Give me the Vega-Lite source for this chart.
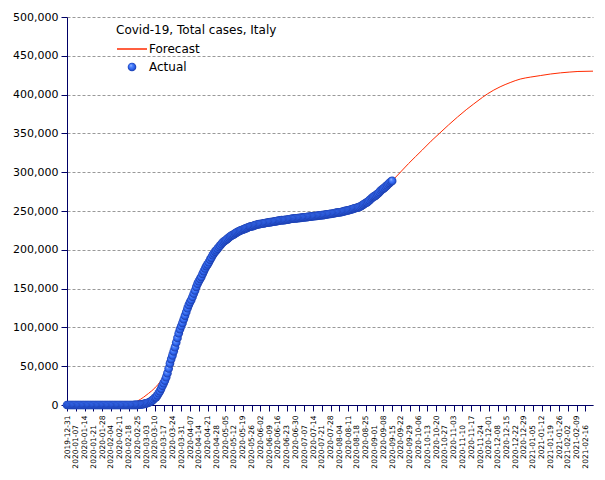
{
  "$schema": "https://vega.github.io/schema/vega-lite/v6.json",
  "width": 526,
  "height": 388,
  "autosize": {"type": "none"},
  "padding": {"left": 67, "top": 17, "right": 12, "bottom": 75},
  "background": "white",
  "config": {"view": {"stroke": null}, "font": "DejaVu Sans"},
  "resolve": {"axis": {"x": "independent", "y": "independent"}},
  "datasets": {
    "forecast": [
      {"date": "2019-12-31", "cases": 0},
      {"date": "2020-01-15", "cases": 0},
      {"date": "2020-02-01", "cases": 0},
      {"date": "2020-02-15", "cases": 200},
      {"date": "2020-02-20", "cases": 1500},
      {"date": "2020-02-25", "cases": 5000},
      {"date": "2020-03-01", "cases": 10000},
      {"date": "2020-03-05", "cases": 15000},
      {"date": "2020-03-10", "cases": 22000},
      {"date": "2020-03-15", "cases": 32000},
      {"date": "2020-03-20", "cases": 48000},
      {"date": "2020-03-25", "cases": 70000},
      {"date": "2020-03-31", "cases": 101000},
      {"date": "2020-04-07", "cases": 133000},
      {"date": "2020-04-14", "cases": 160000},
      {"date": "2020-04-21", "cases": 182000},
      {"date": "2020-04-28", "cases": 201000},
      {"date": "2020-05-05", "cases": 214000},
      {"date": "2020-05-12", "cases": 221500},
      {"date": "2020-05-19", "cases": 226500},
      {"date": "2020-05-26", "cases": 230300},
      {"date": "2020-06-02", "cases": 233200},
      {"date": "2020-06-09", "cases": 235300},
      {"date": "2020-06-16", "cases": 237300},
      {"date": "2020-06-23", "cases": 238700},
      {"date": "2020-06-30", "cases": 240400},
      {"date": "2020-07-07", "cases": 241800},
      {"date": "2020-07-14", "cases": 243200},
      {"date": "2020-07-21", "cases": 244600},
      {"date": "2020-07-28", "cases": 246300},
      {"date": "2020-08-04", "cases": 248200},
      {"date": "2020-08-11", "cases": 250800},
      {"date": "2020-08-18", "cases": 254200},
      {"date": "2020-08-25", "cases": 260300},
      {"date": "2020-09-01", "cases": 269200},
      {"date": "2020-09-08", "cases": 278800},
      {"date": "2020-09-15", "cases": 289000},
      {"date": "2020-09-21", "cases": 299000},
      {"date": "2020-09-28", "cases": 311000},
      {"date": "2020-10-09", "cases": 328600},
      {"date": "2020-10-16", "cases": 340000},
      {"date": "2020-10-23", "cases": 350500},
      {"date": "2020-10-30", "cases": 361000},
      {"date": "2020-11-06", "cases": 371000},
      {"date": "2020-11-13", "cases": 380500},
      {"date": "2020-11-19", "cases": 388000},
      {"date": "2020-11-26", "cases": 396500},
      {"date": "2020-11-30", "cases": 401000},
      {"date": "2020-12-10", "cases": 410000},
      {"date": "2020-12-18", "cases": 415500},
      {"date": "2020-12-26", "cases": 420000},
      {"date": "2021-01-03", "cases": 422500},
      {"date": "2021-01-11", "cases": 424500},
      {"date": "2021-01-19", "cases": 426500},
      {"date": "2021-01-27", "cases": 428000},
      {"date": "2021-02-03", "cases": 429000},
      {"date": "2021-02-10", "cases": 429800},
      {"date": "2021-02-22", "cases": 430200}
    ],
    "actual": [
      {"date": "2019-12-31", "cases": 0},
      {"date": "2020-01-01", "cases": 0}, {"date": "2020-01-02", "cases": 0}, {"date": "2020-01-03", "cases": 0}, {"date": "2020-01-04", "cases": 0}, {"date": "2020-01-05", "cases": 0}, {"date": "2020-01-06", "cases": 0}, {"date": "2020-01-07", "cases": 0}, {"date": "2020-01-08", "cases": 0}, {"date": "2020-01-09", "cases": 0}, {"date": "2020-01-10", "cases": 0},
      {"date": "2020-01-11", "cases": 0}, {"date": "2020-01-12", "cases": 0}, {"date": "2020-01-13", "cases": 0}, {"date": "2020-01-14", "cases": 0}, {"date": "2020-01-15", "cases": 0}, {"date": "2020-01-16", "cases": 0}, {"date": "2020-01-17", "cases": 0}, {"date": "2020-01-18", "cases": 0}, {"date": "2020-01-19", "cases": 0}, {"date": "2020-01-20", "cases": 0},
      {"date": "2020-01-21", "cases": 0}, {"date": "2020-01-22", "cases": 0}, {"date": "2020-01-23", "cases": 0}, {"date": "2020-01-24", "cases": 0}, {"date": "2020-01-25", "cases": 0}, {"date": "2020-01-26", "cases": 0}, {"date": "2020-01-27", "cases": 0}, {"date": "2020-01-28", "cases": 0}, {"date": "2020-01-29", "cases": 0}, {"date": "2020-01-30", "cases": 0},
      {"date": "2020-01-31", "cases": 2},
      {"date": "2020-02-01", "cases": 2}, {"date": "2020-02-02", "cases": 2}, {"date": "2020-02-03", "cases": 2}, {"date": "2020-02-04", "cases": 2}, {"date": "2020-02-05", "cases": 2}, {"date": "2020-02-06", "cases": 2}, {"date": "2020-02-07", "cases": 3}, {"date": "2020-02-08", "cases": 3}, {"date": "2020-02-09", "cases": 3}, {"date": "2020-02-10", "cases": 3},
      {"date": "2020-02-11", "cases": 3}, {"date": "2020-02-12", "cases": 3}, {"date": "2020-02-13", "cases": 3}, {"date": "2020-02-14", "cases": 3}, {"date": "2020-02-15", "cases": 3}, {"date": "2020-02-16", "cases": 3}, {"date": "2020-02-17", "cases": 3}, {"date": "2020-02-18", "cases": 3}, {"date": "2020-02-19", "cases": 3}, {"date": "2020-02-20", "cases": 3},
      {"date": "2020-02-21", "cases": 3}, {"date": "2020-02-22", "cases": 20}, {"date": "2020-02-23", "cases": 79}, {"date": "2020-02-24", "cases": 150}, {"date": "2020-02-25", "cases": 229}, {"date": "2020-02-26", "cases": 322}, {"date": "2020-02-27", "cases": 400}, {"date": "2020-02-28", "cases": 650}, {"date": "2020-02-29", "cases": 888},
      {"date": "2020-03-01", "cases": 1128}, {"date": "2020-03-02", "cases": 1694}, {"date": "2020-03-03", "cases": 2036}, {"date": "2020-03-04", "cases": 2502}, {"date": "2020-03-05", "cases": 3089}, {"date": "2020-03-06", "cases": 3858}, {"date": "2020-03-07", "cases": 4636}, {"date": "2020-03-08", "cases": 5883}, {"date": "2020-03-09", "cases": 7375}, {"date": "2020-03-10", "cases": 9172},
      {"date": "2020-03-11", "cases": 10149}, {"date": "2020-03-12", "cases": 12462}, {"date": "2020-03-13", "cases": 15113}, {"date": "2020-03-14", "cases": 17660}, {"date": "2020-03-15", "cases": 21157}, {"date": "2020-03-16", "cases": 24747}, {"date": "2020-03-17", "cases": 27980}, {"date": "2020-03-18", "cases": 31506}, {"date": "2020-03-19", "cases": 35713}, {"date": "2020-03-20", "cases": 41035},
      {"date": "2020-03-21", "cases": 47021}, {"date": "2020-03-22", "cases": 53578}, {"date": "2020-03-23", "cases": 59138}, {"date": "2020-03-24", "cases": 63927}, {"date": "2020-03-25", "cases": 69176}, {"date": "2020-03-26", "cases": 74386}, {"date": "2020-03-27", "cases": 80589}, {"date": "2020-03-28", "cases": 86498}, {"date": "2020-03-29", "cases": 92472}, {"date": "2020-03-30", "cases": 97689},
      {"date": "2020-03-31", "cases": 101739},
      {"date": "2020-04-01", "cases": 105792}, {"date": "2020-04-02", "cases": 110574}, {"date": "2020-04-03", "cases": 115242}, {"date": "2020-04-04", "cases": 119827}, {"date": "2020-04-05", "cases": 124632}, {"date": "2020-04-06", "cases": 128948}, {"date": "2020-04-07", "cases": 132547}, {"date": "2020-04-08", "cases": 135586}, {"date": "2020-04-09", "cases": 139422}, {"date": "2020-04-10", "cases": 143626},
      {"date": "2020-04-11", "cases": 147577}, {"date": "2020-04-12", "cases": 152271}, {"date": "2020-04-13", "cases": 156363}, {"date": "2020-04-14", "cases": 159516}, {"date": "2020-04-15", "cases": 162488}, {"date": "2020-04-16", "cases": 165155}, {"date": "2020-04-17", "cases": 168941}, {"date": "2020-04-18", "cases": 172434}, {"date": "2020-04-19", "cases": 175925}, {"date": "2020-04-20", "cases": 178972},
      {"date": "2020-04-21", "cases": 181228}, {"date": "2020-04-22", "cases": 183957}, {"date": "2020-04-23", "cases": 187327}, {"date": "2020-04-24", "cases": 189973}, {"date": "2020-04-25", "cases": 192994}, {"date": "2020-04-26", "cases": 195351}, {"date": "2020-04-27", "cases": 197675}, {"date": "2020-04-28", "cases": 199414}, {"date": "2020-04-29", "cases": 201505}, {"date": "2020-04-30", "cases": 203591},
      {"date": "2020-05-01", "cases": 205463}, {"date": "2020-05-02", "cases": 207428}, {"date": "2020-05-03", "cases": 209328}, {"date": "2020-05-04", "cases": 210717}, {"date": "2020-05-05", "cases": 211938}, {"date": "2020-05-06", "cases": 213013}, {"date": "2020-05-07", "cases": 214457}, {"date": "2020-05-08", "cases": 215858}, {"date": "2020-05-09", "cases": 217185}, {"date": "2020-05-10", "cases": 218268},
      {"date": "2020-05-11", "cases": 219070}, {"date": "2020-05-12", "cases": 219814}, {"date": "2020-05-13", "cases": 221216}, {"date": "2020-05-14", "cases": 222104}, {"date": "2020-05-15", "cases": 223096}, {"date": "2020-05-16", "cases": 223885}, {"date": "2020-05-17", "cases": 224760}, {"date": "2020-05-18", "cases": 225435}, {"date": "2020-05-19", "cases": 225886}, {"date": "2020-05-20", "cases": 226699},
      {"date": "2020-05-21", "cases": 227364}, {"date": "2020-05-22", "cases": 228006}, {"date": "2020-05-23", "cases": 228658}, {"date": "2020-05-24", "cases": 229327}, {"date": "2020-05-25", "cases": 229858}, {"date": "2020-05-26", "cases": 230158}, {"date": "2020-05-27", "cases": 230555}, {"date": "2020-05-28", "cases": 231139}, {"date": "2020-05-29", "cases": 231732}, {"date": "2020-05-30", "cases": 232248},
      {"date": "2020-05-31", "cases": 232664},
      {"date": "2020-06-01", "cases": 233019}, {"date": "2020-06-02", "cases": 233197}, {"date": "2020-06-03", "cases": 233515}, {"date": "2020-06-04", "cases": 233836}, {"date": "2020-06-05", "cases": 234013}, {"date": "2020-06-06", "cases": 234531}, {"date": "2020-06-07", "cases": 234801}, {"date": "2020-06-08", "cases": 234998}, {"date": "2020-06-09", "cases": 235278}, {"date": "2020-06-10", "cases": 235561},
      {"date": "2020-06-11", "cases": 235763}, {"date": "2020-06-12", "cases": 236142}, {"date": "2020-06-13", "cases": 236305}, {"date": "2020-06-14", "cases": 236651}, {"date": "2020-06-15", "cases": 236989}, {"date": "2020-06-16", "cases": 237290}, {"date": "2020-06-17", "cases": 237500}, {"date": "2020-06-18", "cases": 237828}, {"date": "2020-06-19", "cases": 238159}, {"date": "2020-06-20", "cases": 238011},
      {"date": "2020-06-21", "cases": 238275}, {"date": "2020-06-22", "cases": 238499}, {"date": "2020-06-23", "cases": 238720}, {"date": "2020-06-24", "cases": 238833}, {"date": "2020-06-25", "cases": 239410}, {"date": "2020-06-26", "cases": 239706}, {"date": "2020-06-27", "cases": 239961}, {"date": "2020-06-28", "cases": 240136}, {"date": "2020-06-29", "cases": 240310}, {"date": "2020-06-30", "cases": 240436},
      {"date": "2020-07-01", "cases": 240578}, {"date": "2020-07-02", "cases": 240760}, {"date": "2020-07-03", "cases": 240961}, {"date": "2020-07-04", "cases": 241184}, {"date": "2020-07-05", "cases": 241419}, {"date": "2020-07-06", "cases": 241611}, {"date": "2020-07-07", "cases": 241819}, {"date": "2020-07-08", "cases": 241956}, {"date": "2020-07-09", "cases": 242149}, {"date": "2020-07-10", "cases": 242363},
      {"date": "2020-07-11", "cases": 242639}, {"date": "2020-07-12", "cases": 242827}, {"date": "2020-07-13", "cases": 243061}, {"date": "2020-07-14", "cases": 243230}, {"date": "2020-07-15", "cases": 243344}, {"date": "2020-07-16", "cases": 243506}, {"date": "2020-07-17", "cases": 243736}, {"date": "2020-07-18", "cases": 243967}, {"date": "2020-07-19", "cases": 244216}, {"date": "2020-07-20", "cases": 244434},
      {"date": "2020-07-21", "cases": 244624}, {"date": "2020-07-22", "cases": 244752}, {"date": "2020-07-23", "cases": 245032}, {"date": "2020-07-24", "cases": 245338}, {"date": "2020-07-25", "cases": 245590}, {"date": "2020-07-26", "cases": 245864}, {"date": "2020-07-27", "cases": 246118}, {"date": "2020-07-28", "cases": 246286}, {"date": "2020-07-29", "cases": 246488}, {"date": "2020-07-30", "cases": 246776},
      {"date": "2020-07-31", "cases": 247158},
      {"date": "2020-08-01", "cases": 247537}, {"date": "2020-08-02", "cases": 247832}, {"date": "2020-08-03", "cases": 248070}, {"date": "2020-08-04", "cases": 248229}, {"date": "2020-08-05", "cases": 248419}, {"date": "2020-08-06", "cases": 248803}, {"date": "2020-08-07", "cases": 249204}, {"date": "2020-08-08", "cases": 249756}, {"date": "2020-08-09", "cases": 250103}, {"date": "2020-08-10", "cases": 250566},
      {"date": "2020-08-11", "cases": 250825}, {"date": "2020-08-12", "cases": 251237}, {"date": "2020-08-13", "cases": 251713}, {"date": "2020-08-14", "cases": 252235}, {"date": "2020-08-15", "cases": 252809}, {"date": "2020-08-16", "cases": 253438}, {"date": "2020-08-17", "cases": 253915}, {"date": "2020-08-18", "cases": 254235}, {"date": "2020-08-19", "cases": 254636}, {"date": "2020-08-20", "cases": 255278},
      {"date": "2020-08-21", "cases": 256118}, {"date": "2020-08-22", "cases": 257065}, {"date": "2020-08-23", "cases": 258136}, {"date": "2020-08-24", "cases": 259345}, {"date": "2020-08-25", "cases": 260298}, {"date": "2020-08-26", "cases": 261174}, {"date": "2020-08-27", "cases": 262540}, {"date": "2020-08-28", "cases": 263949}, {"date": "2020-08-29", "cases": 265409}, {"date": "2020-08-30", "cases": 266853},
      {"date": "2020-08-31", "cases": 268218},
      {"date": "2020-09-01", "cases": 269214}, {"date": "2020-09-02", "cases": 270189}, {"date": "2020-09-03", "cases": 271515}, {"date": "2020-09-04", "cases": 272912}, {"date": "2020-09-05", "cases": 274644}, {"date": "2020-09-06", "cases": 276338}, {"date": "2020-09-07", "cases": 277634}, {"date": "2020-09-08", "cases": 278784}, {"date": "2020-09-09", "cases": 280153}, {"date": "2020-09-10", "cases": 281583},
      {"date": "2020-09-11", "cases": 283180}, {"date": "2020-09-12", "cases": 284796}, {"date": "2020-09-13", "cases": 286297}, {"date": "2020-09-14", "cases": 287753}, {"date": "2020-09-15", "cases": 288761}
    ]
  },
  "layer": [
    {
      "data": {"name": "forecast"},
      "mark": {"type": "line", "strokeWidth": 1, "interpolate": "monotone"},
      "encoding": {
        "x": {
          "field": "date", "type": "temporal",
          "scale": {"type": "utc", "domain": [1577750400000, 1613952000000]},
          "axis": {
            "title": null, "grid": false,
            "labelExpr": "indexof(['2020-01-07','2020-01-21','2020-02-04','2020-02-18','2020-03-03','2020-03-17','2020-03-31','2020-04-14','2020-04-28','2020-05-12','2020-05-26','2020-06-09','2020-06-23','2020-07-07','2020-07-21','2020-08-04','2020-08-18','2020-09-01','2020-09-15','2020-09-29','2020-10-13','2020-10-27','2020-11-10','2020-11-24','2020-12-08','2020-12-22','2021-01-05','2021-01-19','2021-02-02','2021-02-16'], utcFormat(datum.value, '%Y-%m-%d')) >= 0 ? utcFormat(datum.value, '%Y-%m-%d') + '\u00a0\u00a0\u00a0\u00a0\u2060' : utcFormat(datum.value, '%Y-%m-%d')",
            "values": [1577750400000, 1578355200000, 1578960000000, 1579564800000, 1580169600000, 1580774400000, 1581379200000, 1581984000000, 1582588800000, 1583193600000, 1583798400000, 1584403200000, 1585008000000, 1585612800000, 1586217600000, 1586822400000, 1587427200000, 1588032000000, 1588636800000, 1589241600000, 1589846400000, 1590451200000, 1591056000000, 1591660800000, 1592265600000, 1592870400000, 1593475200000, 1594080000000, 1594684800000, 1595289600000, 1595894400000, 1596499200000, 1597104000000, 1597708800000, 1598313600000, 1598918400000, 1599523200000, 1600128000000, 1600732800000, 1601337600000, 1601942400000, 1602547200000, 1603152000000, 1603756800000, 1604361600000, 1604966400000, 1605571200000, 1606176000000, 1606780800000, 1607385600000, 1607990400000, 1608595200000, 1609200000000, 1609804800000, 1610409600000, 1611014400000, 1611619200000, 1612224000000, 1612828800000, 1613433600000],
            "labelAngle": 270, "labelAlign": "right", "labelBaseline": "middle",
            "labelFontSize": 7.5, "labelColor": "#000000", "labelFont": "DejaVu Sans",
            "labelOverlap": false, "labelFlush": false, "labelBound": false, "labelLimit": 0,
            "labelPadding": 4, "tickSize": 6, "tickColor": "#000066", "domainColor": "#000066"
          }
        },
        "y": {
          "field": "cases", "type": "quantitative",
          "scale": {"domain": [0, 500000]},
          "axis": {
            "title": null, "values": [0, 50000, 100000, 150000, 200000, 250000, 300000, 350000, 400000, 450000, 500000],
            "format": ",d", "grid": true, "gridDash": [3, 2], "gridColor": "#999999", "labelOverlap": false,
            "labelFontSize": 11, "labelColor": "#000000", "labelFont": "DejaVu Sans",
            "labelPadding": 3, "tickSize": 6, "tickColor": "#000066", "domainColor": "#000066"
          }
        },
        "stroke": {
          "datum": "Forecast",
          "scale": {"range": ["#ff2a00"]},
          "legend": {
            "title": "Covid-19, Total cases, Italy", "orient": "none", "legendX": 49, "legendY": 8,
            "padding": 0, "titleFontSize": 12, "titleFontWeight": "normal", "titleColor": "#000000", "titleFont": "DejaVu Sans",
            "labelFontSize": 12, "labelColor": "#000000", "labelFont": "DejaVu Sans",
            "symbolType": "stroke", "symbolSize": 900, "symbolStrokeWidth": 1.5, "labelOffset": 1, "titlePadding": -4
          }
        }
      }
    },
    {
      "data": {"name": "actual"},
      "mark": {
        "type": "point", "filled": true, "size": 75, "opacity": 1, "strokeWidth": 0,
        "fill": {"gradient": "radial", "x1": 0.35, "y1": 0.3, "r1": 0, "x2": 0.5, "y2": 0.5, "r2": 0.5,
          "stops": [{"offset": 0, "color": "#d8e6ff"}, {"offset": 0.25, "color": "#5a8cff"}, {"offset": 0.65, "color": "#2f66f0"}, {"offset": 1, "color": "#1a3aa8"}]}
      },
      "encoding": {
        "x": {"field": "date", "type": "temporal", "axis": null},
        "y": {"field": "cases", "type": "quantitative", "axis": null},
        "shape": {
          "datum": "Actual",
          "scale": {"range": ["circle"]},
          "legend": {
            "title": null, "orient": "none", "legendX": 59, "legendY": 44, "padding": 0,
            "labelFontSize": 12, "labelColor": "#000000", "labelFont": "DejaVu Sans",
            "symbolSize": 75, "labelOffset": 11, "symbolStrokeWidth": 0,
            "encode": {"symbols": {"update": {"fill": {"value": {"gradient": "radial", "x1": 0.35, "y1": 0.3, "r1": 0, "x2": 0.5, "y2": 0.5, "r2": 0.5,
              "stops": [{"offset": 0, "color": "#d8e6ff"}, {"offset": 0.25, "color": "#5a8cff"}, {"offset": 0.65, "color": "#2f66f0"}, {"offset": 1, "color": "#1a3aa8"}]}}, "opacity": {"value": 1}}}}
          }
        }
      }
    }
  ]
}
